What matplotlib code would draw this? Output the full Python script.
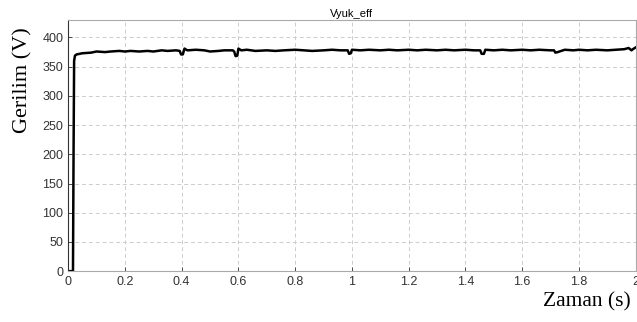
import matplotlib.pyplot as plt

# time (s) and voltage (V)
t = [0.0, 0.017, 0.019, 0.021, 0.024, 0.03, 0.05, 0.08, 0.1, 0.13, 0.15, 0.18,
     0.2, 0.22, 0.25, 0.28, 0.3, 0.33, 0.35, 0.38, 0.393, 0.398, 0.404, 0.41,
     0.42, 0.45, 0.48, 0.5, 0.53, 0.55, 0.58, 0.585, 0.59, 0.596, 0.60, 0.61,
     0.63, 0.66, 0.7, 0.73, 0.76, 0.8, 0.83, 0.86, 0.9, 0.93, 0.96, 0.985,
     0.99, 0.996, 1.0, 1.03, 1.06, 1.1, 1.13, 1.16, 1.2, 1.23, 1.26, 1.3,
     1.33, 1.36, 1.4, 1.43, 1.452, 1.457, 1.465, 1.47, 1.5, 1.53, 1.56, 1.6,
     1.63, 1.66, 1.7, 1.712, 1.717, 1.725, 1.75, 1.78, 1.8, 1.83, 1.86, 1.9,
     1.93, 1.96, 1.975, 1.985, 1.99, 2.0]
v = [0, 0, 200, 360, 369, 371, 373, 374, 376, 375, 376, 377,
     376, 377, 376, 377, 376, 378, 377, 378, 377, 371, 371, 381,
     378, 379, 378, 376, 377, 378, 378, 376, 368, 369, 381,
     378, 379, 377, 378, 377, 378, 379, 378, 377, 378, 379, 378, 378,
     372, 373, 379, 378, 379, 378, 379, 378, 379, 378, 379, 378,
     379, 378, 379, 378, 378, 372, 372, 379, 378, 379, 378, 379,
     378, 379, 378, 378, 374, 375, 379, 378, 379, 378, 379, 378,
     379, 380, 382, 378, 380, 383]

xticks = [0, 0.2, 0.4, 0.6, 0.8, 1, 1.2, 1.4, 1.6, 1.8, 2]
xtick_labels = ['0', '0.2', '0.4', '0.6', '0.8', '1', '1.2', '1.4', '1.6', '1.8', '2']
yticks = [0, 50, 100, 150, 200, 250, 300, 350, 400]

fig = plt.figure(figsize=(6.37, 3.22), dpi=100)
ax = fig.add_axes([0.107, 0.158, 0.891, 0.78])

ax.plot(t, v, color='black', linewidth=1.8)

ax.set_xlim(0, 2)
ax.set_ylim(0, 430)
ax.set_xticks(xticks)
ax.set_xticklabels(xtick_labels)
ax.set_yticks(yticks)
ax.tick_params(direction='in', length=3, labelsize=9, colors='#333333', width=0.6)
for lbl in ax.get_xticklabels() + ax.get_yticklabels():
    lbl.set_family('Liberation Sans')

ax.grid(True, linestyle=(0, (4, 3)), color='#cccccc', linewidth=0.7)

for side in ['top', 'right', 'bottom']:
    ax.spines[side].set_color('#aaaaaa')
ax.spines['left'].set_color('#333333')

ax.set_title('Vyuk_eff', fontsize=8, family='Liberation Sans', pad=2)
fig.text(0.036, 0.75, 'Gerilim (V)', rotation=90, ha='center', va='center',
         fontsize=16, family='Liberation Serif')
fig.text(0.99, 0.062, 'Zaman (s)', ha='right', va='center',
         fontsize=15.5, family='Liberation Serif')

fig.savefig('out.png', dpi=100)
